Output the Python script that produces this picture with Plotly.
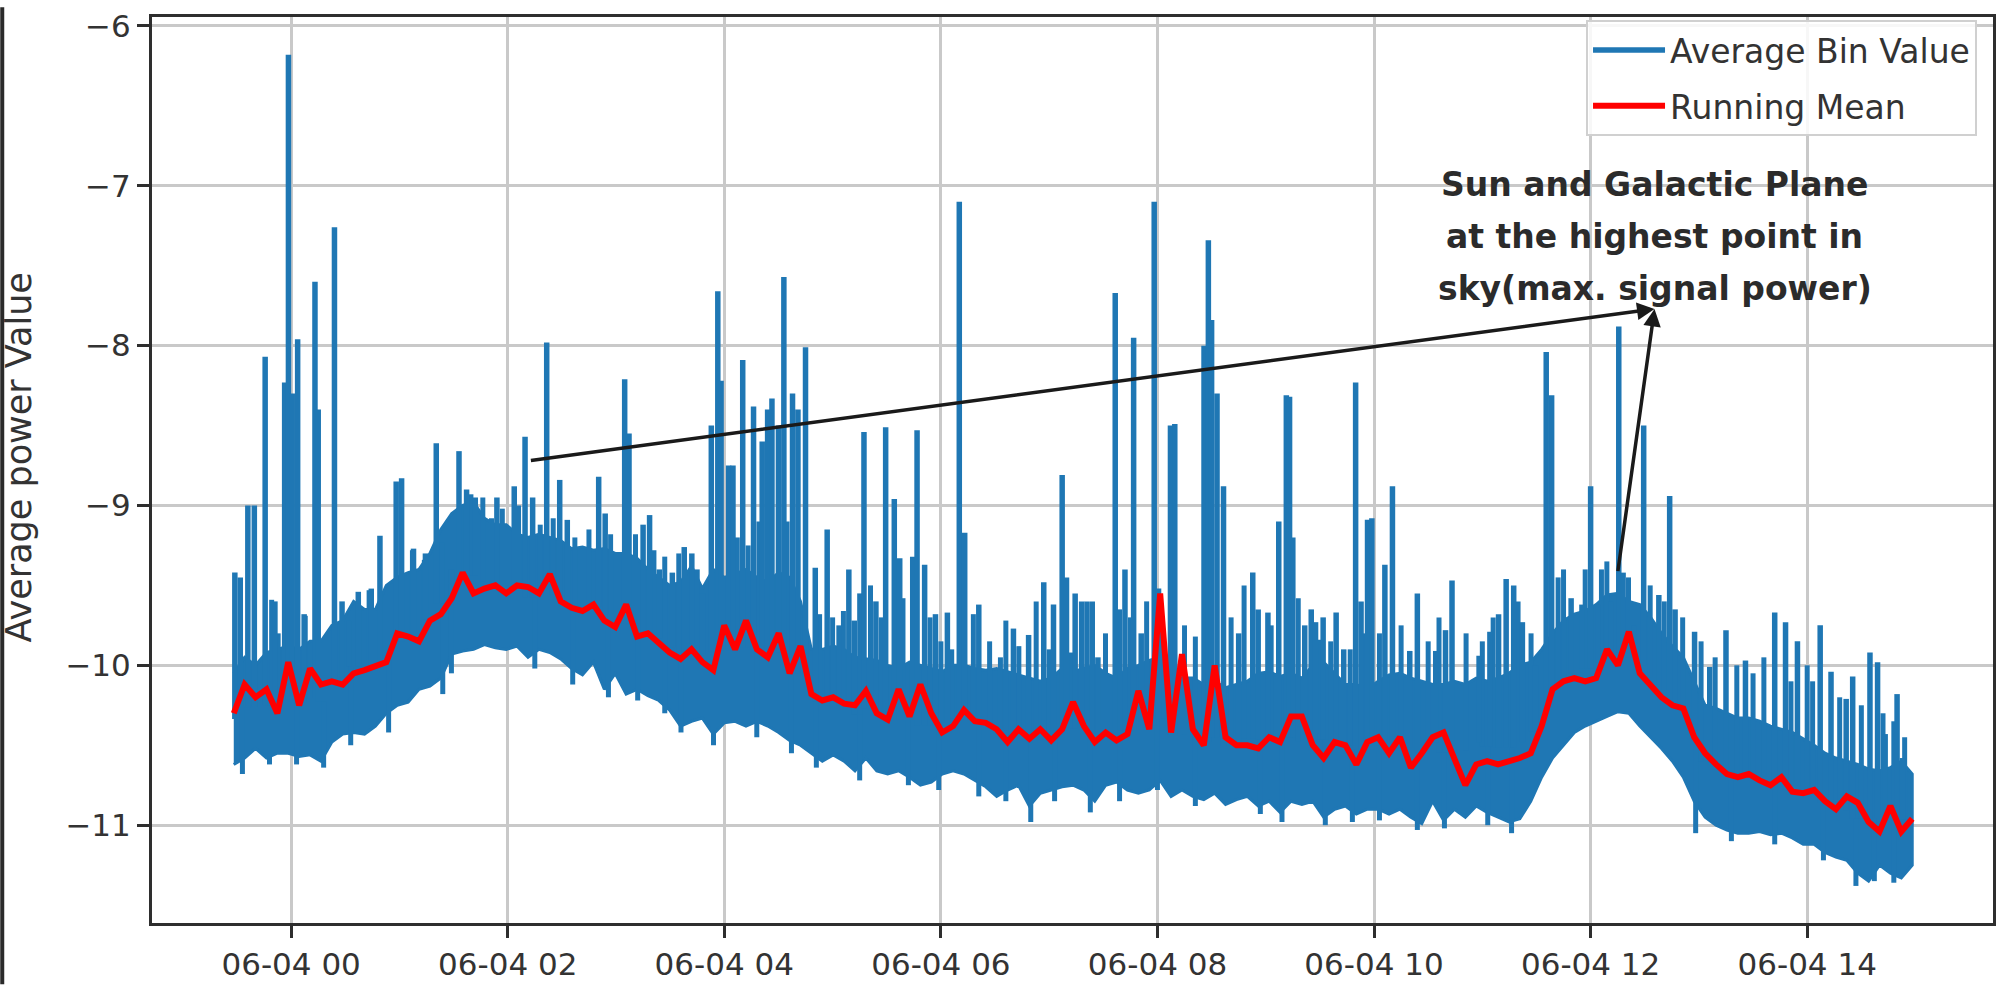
import numpy as np
import pandas as pd
import plotly.graph_objects as go

# ---------------- data ----------------
# dense band of "Average Bin Value": lower / upper envelope, ~6 min samples
band_low = [
    -10.62, -10.58, -10.52, -10.58, -10.55, -10.55, -10.57, -10.56, -10.60, -10.48,
    -10.43, -10.42, -10.43, -10.38, -10.30, -10.25, -10.23, -10.15, -10.13, -10.08,
    -9.93, -9.91, -9.90, -9.87, -9.89, -9.90, -9.88, -9.95, -9.90, -9.92,
    -9.96, -10.02, -10.06, -9.98, -10.15, -10.05, -10.18, -10.15, -10.19, -10.22,
    -10.28, -10.38, -10.35, -10.33, -10.43, -10.36, -10.35, -10.38, -10.35, -10.38,
    -10.42, -10.47, -10.50, -10.55, -10.60, -10.56, -10.60, -10.66, -10.58, -10.66,
    -10.68, -10.66, -10.70, -10.75, -10.73, -10.68, -10.66, -10.68, -10.72, -10.76,
    -10.82, -10.78, -10.75, -10.88, -10.80, -10.78, -10.76, -10.75, -10.78, -10.85,
    -10.75, -10.73, -10.78, -10.80, -10.78, -10.72, -10.82, -10.78, -10.82, -10.84,
    -10.80, -10.87, -10.84, -10.82, -10.88, -10.85, -10.92, -10.85, -10.87, -10.85,
    -10.95, -10.90, -10.88, -10.93, -10.90, -10.90, -10.93, -10.90, -10.95, -10.99,
    -10.85, -10.97, -10.90, -10.95, -10.88, -10.92, -10.95, -10.98, -10.96, -10.85,
    -10.70, -10.58, -10.50, -10.42, -10.38, -10.35, -10.32, -10.29, -10.30, -10.38,
    -10.45, -10.52, -10.60, -10.70, -10.85, -10.95, -11.00, -11.03, -11.05, -11.05,
    -11.04, -11.06, -11.05, -11.08, -11.12, -11.12, -11.17, -11.20, -11.22, -11.30,
    -11.35, -11.25, -11.30, -11.33, -11.25,
]
band_high = [
    -10.05, -9.95, -10.00, -9.92, -9.90, -9.88, -9.90, -9.85, -9.85, -9.75,
    -9.72, -9.60, -9.65, -9.65, -9.50, -9.45, -9.42, -9.40, -9.30, -9.15,
    -9.05, -9.00, -8.98, -9.08, -9.12, -9.12, -9.18, -9.20, -9.18, -9.20,
    -9.22, -9.27, -9.26, -9.28, -9.27, -9.30, -9.30, -9.33, -9.40, -9.45,
    -9.50, -9.48, -9.38, -9.52, -9.40, -9.45, -9.43, -9.40, -9.45, -9.48,
    -9.42, -9.45, -9.60, -9.90, -9.90, -9.88, -9.90, -9.95, -9.96, -9.97,
    -10.00, -10.02, -9.98, -10.00, -10.02, -10.04, -10.00, -10.00, -10.02, -10.03,
    -10.02, -10.04, -10.06, -10.08, -10.10, -10.08, -10.02, -10.04, -10.02, -10.00,
    -10.05, -10.08, -10.02, -10.00, -9.97, -9.95, -10.05, -10.08, -10.08, -10.12,
    -10.10, -10.14, -10.12, -10.10, -10.05, -10.04, -10.07, -10.05, -10.08, -10.00,
    -9.98, -10.05, -10.12, -10.12, -10.15, -10.10, -10.06, -10.05, -10.08, -10.10,
    -10.12, -10.12, -10.10, -10.12, -10.08, -10.10, -10.08, -10.05, -10.00, -9.98,
    -9.90, -9.80, -9.72, -9.68, -9.66, -9.62, -9.56, -9.55, -9.60, -9.62,
    -9.70, -9.80, -9.88, -9.95, -10.10, -10.25, -10.27, -10.30, -10.33, -10.33,
    -10.35, -10.38, -10.40, -10.42, -10.46, -10.50, -10.55, -10.58, -10.60, -10.62,
    -10.65, -10.66, -10.64, -10.60, -10.68,
]
running_mean = [
    -10.30, -10.12, -10.20, -10.15, -10.30, -9.98, -10.25, -10.02, -10.12, -10.10,
    -10.12, -10.05, -10.03, -10.00, -9.98, -9.80, -9.82, -9.85, -9.72, -9.68,
    -9.58, -9.42, -9.55, -9.52, -9.50, -9.55, -9.50, -9.51, -9.55, -9.43,
    -9.60, -9.64, -9.66, -9.62, -9.72, -9.76, -9.62, -9.82, -9.80, -9.86,
    -9.92, -9.96, -9.90, -9.98, -10.03, -9.75, -9.90, -9.72, -9.90, -9.95,
    -9.80, -10.05, -9.88, -10.18, -10.22, -10.20, -10.24, -10.25, -10.16, -10.30,
    -10.34, -10.15, -10.32, -10.12, -10.30, -10.42, -10.38, -10.28, -10.35, -10.36,
    -10.40, -10.48, -10.40, -10.46, -10.40, -10.47, -10.40, -10.23, -10.38, -10.48,
    -10.42, -10.47, -10.43, -10.16, -10.40, -9.55, -10.42, -9.93, -10.40, -10.50,
    -10.00, -10.45, -10.50, -10.50, -10.52, -10.45, -10.48, -10.32, -10.32, -10.50,
    -10.58, -10.48, -10.50, -10.62, -10.48, -10.45, -10.55, -10.45, -10.64, -10.55,
    -10.45, -10.42, -10.58, -10.75, -10.62, -10.60, -10.62, -10.60, -10.58, -10.55,
    -10.38, -10.15, -10.10, -10.08, -10.10, -10.08, -9.90, -10.00, -9.79, -10.05,
    -10.12, -10.20, -10.25, -10.27, -10.45, -10.55, -10.62, -10.68, -10.70, -10.68,
    -10.72, -10.75, -10.70, -10.79, -10.80, -10.78, -10.85, -10.90, -10.82, -10.86,
    -10.98, -11.04, -10.88, -11.04, -10.96,
]
# isolated spikes of "Average Bin Value": hours after 06-04 00:00 and peak value
spike_hours = [
    -0.52, -0.47, -0.40, -0.34, -0.24, -0.15, -0.06, -0.025, 0.01, 0.06,
    0.12, 0.22, 0.25, 0.40, 0.47, 0.62, 0.74, 0.82, 0.97, 1.02,
    1.13, 1.24, 1.34, 1.48, 1.55, 1.62, 1.70, 1.90, 2.06, 2.16,
    2.23, 2.36, 2.48, 2.55, 2.84, 2.90, 3.08, 3.12, 3.25, 3.31,
    3.40, 3.52, 3.63, 3.70, 3.80, 3.88, 3.94, 3.97, 4.04, 4.08,
    4.17, 4.27, 4.35, 4.40, 4.44, 4.50, 4.55, 4.63, 4.68, 4.75,
    4.84, 4.95, 5.06, 5.15, 5.20, 5.29, 5.40, 5.49, 5.57, 5.62,
    5.74, 5.78, 5.85, 5.95, 6.06, 6.17, 6.22, 6.35, 6.67, 6.81,
    6.95, 7.04, 7.12, 7.16, 7.24, 7.30, 7.35, 7.45, 7.61, 7.70,
    7.78, 7.85, 7.97, 8.01, 8.12, 8.16, 8.43, 8.47, 8.50, 8.55,
    8.61, 8.75, 8.88, 8.93, 9.02, 9.12, 9.19, 9.22, 9.25, 9.36,
    9.42, 9.46, 9.53, 9.65, 9.72, 9.83, 9.88, 9.94, 9.98, 10.10,
    10.17, 10.33, 10.40, 10.57, 10.66, 10.72, 10.97, 11.07, 11.15, 11.22,
    11.29, 11.37, 11.49, 11.59, 11.64, 11.82, 11.92, 12.00, 12.07, 12.19,
    12.26, 12.30, 12.40, 12.49, 12.63, 12.73, 12.78, 12.96, 13.10, 13.25,
    13.43, 13.70, 13.80, 13.91, 14.12, 14.22, 14.36, 14.42, 14.58, 14.65,
    14.72, 14.83, 14.88,
]
spike_peaks = [
    -9.42, -9.45, -9.00, -9.00, -8.07, -9.60, -8.23, -6.18, -8.30, -7.96,
    -9.68, -7.60, -8.40, -7.26, -9.60, -9.54, -9.52, -9.19, -8.85, -8.83,
    -9.27, -9.30, -8.61, -9.40, -8.66, -8.90, -8.95, -8.95, -8.88, -8.57,
    -8.95, -7.98, -8.84, -9.09, -8.82, -9.05, -8.21, -8.55, -9.12, -9.06,
    -9.40, -9.42, -9.26, -9.30, -9.55, -8.50, -7.66, -8.22, -8.75, -8.75,
    -8.09, -8.38, -8.60, -8.40, -8.33, -8.50, -7.57, -8.30, -8.40, -8.01,
    -9.39, -9.15, -9.75, -9.40, -9.72, -8.54, -9.60, -8.51, -8.96, -9.33,
    -9.32, -8.53, -9.37, -9.68, -9.67, -7.10, -9.17, -9.62, -9.77, -9.81,
    -9.48, -9.62, -8.81, -9.45, -9.55, -9.60, -9.60, -9.95, -7.67, -9.40,
    -7.95, -9.80, -7.10, -9.52, -8.50, -8.49, -8.00, -7.34, -7.84, -8.30,
    -8.88, -9.80, -9.42, -9.65, -9.67, -9.10, -8.31, -8.32, -9.20, -9.75,
    -9.65, -9.73, -9.70, -9.67, -9.90, -8.23, -9.60, -9.09, -9.08, -9.37,
    -8.88, -9.91, -9.55, -9.91, -9.78, -9.47, -9.94, -9.79, -9.68, -9.46,
    -9.50, -9.73, -10.00, -8.04, -8.31, -9.58, -9.62, -8.88, -9.62, -9.60,
    -7.88, -9.42, -9.75, -8.50, -9.56, -8.94, -9.65, -9.79, -10.01, -9.78,
    -9.97, -9.67, -9.73, -9.85, -9.75, -10.04, -10.21, -10.07, -9.92, -9.98,
    -10.43, -10.18, -10.58,
]
# small excursions on the top edge of the band
minor_hours = [
    -0.18, -0.12, 0.13, 0.53, 0.72, 1.12, 1.23, 1.39, 1.66, 1.77,
    1.85, 1.95, 2.10, 2.30, 2.42, 2.62, 2.75, 2.95, 3.18, 3.35,
    3.45, 3.58, 3.75, 4.12, 4.22, 4.32, 4.58, 4.88, 5.00, 5.10,
    5.25, 5.35, 5.45, 5.65, 5.90, 6.00, 6.10, 6.30, 6.45, 6.55,
    6.60, 6.72, 6.88, 7.00, 7.20, 7.40, 7.52, 7.65, 7.75, 7.90,
    8.05, 8.25, 8.35, 8.68, 8.80, 9.05, 9.30, 9.50, 9.60, 9.78,
    9.92, 10.05, 10.25, 10.50, 10.60, 10.85, 11.00, 11.10, 11.33, 11.45,
    11.70, 11.75, 11.95, 12.10, 12.15, 12.35, 12.55, 12.68, 12.85, 13.02,
    13.15, 13.35, 13.50, 13.60, 13.85, 14.00, 14.05, 14.30, 14.50, 14.70,
    14.80, 14.90,
]
minor_peaks = [
    -9.59, -9.80, -9.69, -9.72, -9.53, -9.28, -9.34, -9.23, -8.93, -8.95,
    -9.08, -9.02, -9.00, -9.12, -9.08, -9.20, -9.15, -9.18, -9.18, -9.28,
    -9.32, -9.30, -9.40, -9.20, -9.25, -9.10, -9.10, -9.68, -9.70, -9.66,
    -9.55, -9.50, -9.70, -9.58, -9.70, -9.85, -9.90, -9.68, -9.85, -9.95,
    -9.72, -9.88, -9.60, -9.90, -9.92, -9.60, -9.80, -9.65, -9.70, -9.60,
    -9.85, -9.75, -9.82, -9.70, -9.50, -9.75, -9.58, -9.84, -9.85, -9.90,
    -9.80, -9.80, -9.75, -9.85, -9.70, -9.80, -9.85, -9.70, -9.60, -9.80,
    -9.45, -9.40, -9.40, -9.40, -9.35, -9.45, -9.50, -9.60, -9.70, -9.85,
    -9.95, -10.00, -10.05, -9.95, -10.10, -10.00, -10.10, -10.20, -10.25, -10.30,
    -10.35, -10.45,
]
# small excursions on the bottom edge of the band
dip_hours = [
    -0.45, -0.20, 0.05, 0.30, 0.55, 0.90, 1.40, 1.48, 2.25, 2.60,
    2.93, 3.20, 3.45, 3.60, 3.90, 4.30, 4.62, 4.85, 5.25, 5.70,
    5.98, 6.35, 6.60, 6.83, 7.05, 7.38, 7.65, 8.00, 8.35, 8.95,
    9.15, 9.55, 9.80, 10.05, 10.40, 10.65, 11.05, 11.27, 12.97, 13.30,
    13.70, 14.15, 14.45, 14.62, 14.80,
]
dip_lows = [
    -10.68, -10.62, -10.62, -10.64, -10.50, -10.42, -10.18, -10.05, -10.02, -10.12,
    -10.20, -10.22, -10.30, -10.42, -10.50, -10.45, -10.55, -10.64, -10.72, -10.75,
    -10.78, -10.82, -10.85, -10.98, -10.85, -10.92, -10.85, -10.78, -10.88, -10.93,
    -10.98, -11.00, -10.98, -10.97, -11.03, -11.02, -11.00, -11.05, -11.05, -11.10,
    -11.12, -11.22, -11.38, -11.35, -11.36,
]
y_tick_values = [-11, -10, -9, -8, -7, -6]
y_tick_labels = ["\u221211", "\u221210", "\u22129", "\u22128", "\u22127", "\u22126"]

note_lines = ["Sun and Galactic Plane", "at the highest point in", "sky(max. signal power)"]
arrow_tip = (12.59, -7.77)
arrow_tails = [(2.20, -8.72), (12.25, -9.42)]

# ---------------- helpers ----------------
DAY0 = pd.Timestamp("2023-06-04 00:00:00")


def at(h):
    return DAY0 + pd.to_timedelta(h, unit="h")


def ds(ts):
    return ts.strftime("%Y-%m-%d %H:%M:%S")


times = pd.date_range(at(-0.53), at(14.97), periods=len(running_mean))
t_str = [ds(t) for t in times]
t_num = times.values.astype("datetime64[s]").astype(np.int64)

BLUE = "#1f77b4"
RED = "#ff0000"

fig = go.Figure()

# dense band (the blue series between its lower and upper envelope)
fig.add_trace(go.Scatter(
    x=t_str + t_str[::-1],
    y=band_high + band_low[::-1],
    mode="lines",
    fill="toself",
    fillcolor=BLUE,
    line=dict(color=BLUE, width=3),
    showlegend=False,
    legendgroup="avg",
    hoverinfo="skip",
))


def vertical_segments(hours, ends):
    xs, ys = [], []
    for h, p in zip(hours, ends):
        ts = at(h)
        idx = int(np.argmin(np.abs(t_num - np.datetime64(ts, "s").astype(np.int64))))
        base = band_low[idx] + 0.5 * (band_high[idx] - band_low[idx])
        xs += [ds(ts), ds(ts), None]
        ys += [base, p, None]
    return xs, ys


mx, my = vertical_segments(minor_hours + dip_hours, minor_peaks + dip_lows)
fig.add_trace(go.Scatter(
    x=mx, y=my, mode="lines",
    line=dict(color=BLUE, width=5),
    showlegend=False, legendgroup="avg", hoverinfo="skip",
))

sx, sy = vertical_segments(spike_hours, spike_peaks)
fig.add_trace(go.Scatter(
    x=sx, y=sy, mode="lines",
    line=dict(color=BLUE, width=5.5),
    name="Average Bin Value",
    legendgroup="avg",
))

fig.add_trace(go.Scatter(
    x=t_str, y=running_mean, mode="lines",
    line=dict(color=RED, width=6),
    name="Running Mean",
))

axis_common = dict(
    showline=True, linewidth=3, linecolor="#2e2e2e", mirror=True,
    ticks="outside", ticklen=12, tickwidth=3, tickcolor="#2e2e2e",
    showgrid=True, gridcolor="#c9c9c9", gridwidth=2.5,
    zeroline=False,
    tickfont=dict(family="DejaVu Sans", size=31, color="#333333"),
)

fig.update_xaxes(
    type="date",
    range=[ds(at(-1.285)), ds(at(15.716))],
    tick0=ds(at(0)), dtick=2 * 3600 * 1000,
    tickformat="%m-%d %H",
    **axis_common,
)
fig.update_yaxes(
    range=[-11.612, -5.944],
    tickmode="array", tickvals=y_tick_values, ticktext=y_tick_labels,
    **axis_common,
)

W, H = 2004, 990
ML, MR, MT, MB = 152, 8, 10, 62
PW, PH = W - ML - MR, H - MT - MB


def px_x(px):
    return (px - ML) / PW


def px_y(py):
    return (H - MB - py) / PH


annotations = []
# y axis label
annotations.append(dict(
    text="Average power Value", xref="paper", yref="paper",
    x=px_x(19), y=px_y(456), textangle=-90, showarrow=False,
    xanchor="center", yanchor="middle",
    font=dict(family="DejaVu Sans", size=35, color="#333333"),
))
# note text
for line, py in zip(note_lines, [180, 232, 285]):
    annotations.append(dict(
        text=line, xref="paper", yref="paper",
        x=px_x(1657), y=px_y(py), showarrow=False,
        xanchor="center", yanchor="middle",
        font=dict(family="DejaVu Sans", size=33, color="#2b2b2b", weight=700),
    ))
# arrows
for tx, ty in arrow_tails:
    annotations.append(dict(
        x=ds(at(arrow_tip[0])), y=arrow_tip[1], xref="x", yref="y",
        ax=ds(at(tx)), ay=ty, axref="x", ayref="y",
        text="", showarrow=True, arrowhead=2, arrowsize=1,
        arrowwidth=3.5, arrowcolor="#1a1a1a", standoff=0, startstandoff=0,
    ))

fig.update_layout(
    width=W, height=H,
    margin=dict(l=ML, r=MR, t=MT, b=MB),
    paper_bgcolor="white", plot_bgcolor="white",
    font=dict(family="DejaVu Sans", size=31, color="#333333"),
    legend=dict(
        x=px_x(1980), xanchor="right", y=px_y(13), yanchor="top",
        bgcolor="rgba(255,255,255,0.85)", bordercolor="#d0d0d0", borderwidth=2,
        font=dict(family="DejaVu Sans", size=33, color="#333333"),
        itemwidth=72,
    ),
    annotations=annotations,
    shapes=[dict(
        type="line", xref="paper", yref="paper",
        x0=px_x(2), x1=px_x(2), y0=px_y(0), y1=px_y(H),
        line=dict(color="#2a2a2a", width=4),
    )],
)

fig.write_html("out.html")
